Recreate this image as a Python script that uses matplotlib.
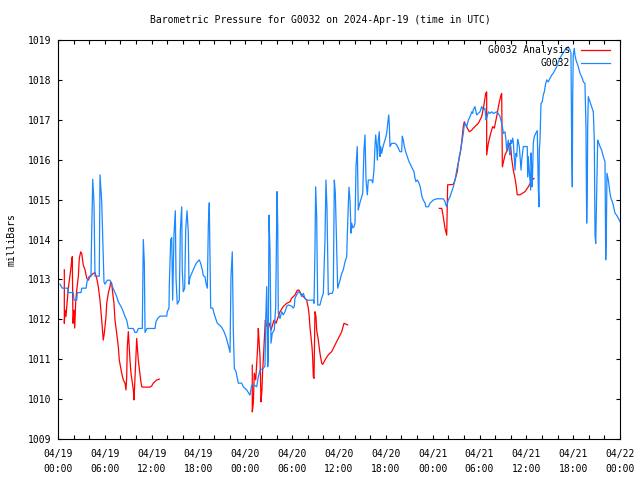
import numpy as np
import matplotlib
matplotlib.use("Agg")
import matplotlib.pyplot as plt

# hours since 2024-04-19 00:00 UTC, pressure in mb
g0032_hours = [
    0.26, 0.55, 1.24, 1.32, 1.96, 2.05, 2.40, 2.47, 2.95, 3.04, 3.59, 3.75, 4.01, 4.23, 4.27, 4.45,
    4.61, 4.74, 5.29, 5.38, 5.60, 5.89, 6.02, 6.32, 6.66, 6.88, 7.17, 7.52, 7.73, 8.07, 8.29, 8.58,
    8.80, 9.01, 9.65, 9.86, 10.08, 10.29, 10.80, 10.93, 11.06, 11.15, 11.40, 11.79, 12.43, 12.55,
    12.81, 13.07, 13.93, 14.00, 14.22, 14.26, 14.44, 14.57, 14.69, 14.86, 15.03, 15.12, 15.28, 15.54,
    15.67, 15.85, 15.92, 16.05, 16.23, 16.36, 16.53, 16.69, 16.78, 16.91, 17.13, 17.33, 17.55, 17.77,
    18.10, 18.28, 18.49, 18.61, 18.83, 18.96, 19.13, 19.26, 19.38, 19.47, 19.56, 19.82, 19.99, 20.20,
    20.41, 20.66, 20.97, 21.27, 21.52, 21.69, 21.87, 22.04, 22.16, 22.33, 22.46, 22.59, 22.80, 22.97,
    23.10, 23.53, 23.74, 24.17, 24.60, 24.81, 25.15, 25.46, 25.66, 25.88, 26.30, 26.52, 26.61, 26.74,
    26.86, 26.94, 27.03, 27.16, 27.29, 27.45, 27.71, 27.89, 28.06, 28.15, 28.22, 28.44, 28.66, 28.86,
    29.08, 29.30, 29.50, 29.94, 30.14, 30.27, 30.36, 30.79, 31.00, 31.22, 31.43, 31.64, 31.86, 32.71,
    32.80, 32.92, 33.01, 33.14, 33.27, 33.56, 33.78, 33.99, 34.21, 34.33, 34.46, 34.63, 34.85, 35.14,
    35.27, 35.40, 35.53, 35.83, 36.13, 36.35, 36.55, 36.77, 36.99, 37.06, 37.19, 37.28, 37.41, 37.54,
    37.63, 37.75, 37.92, 38.05, 38.18, 38.34, 38.47, 38.60, 38.78, 38.91, 39.04, 39.20, 39.33, 39.46,
    39.63, 39.75, 40.19, 40.32, 40.48, 40.61, 40.70, 40.83, 40.91, 41.03, 41.16, 41.25, 41.34, 41.47,
    41.60, 41.76, 41.89, 42.11, 42.24, 42.37, 42.44, 42.53, 42.75, 43.17, 43.39, 43.60, 43.81, 44.03,
    44.11, 44.24, 44.37, 44.54, 44.75, 44.97, 45.18, 45.39, 45.61, 45.74, 45.86, 46.03, 46.16, 46.38,
    46.50, 46.63, 46.80, 47.02, 47.14, 47.44, 47.66, 47.87, 48.08, 48.51, 49.36, 49.58, 49.71, 49.80,
    49.87, 50.00, 50.22, 50.44, 50.64, 50.86, 50.99, 51.08, 51.28, 51.41, 51.59, 51.72, 51.92, 52.05,
    52.14, 52.36, 52.56, 52.69, 52.87, 53.00, 53.13, 53.20, 53.42, 53.55, 53.64, 53.84, 54.06, 54.28,
    54.48, 54.70, 54.83, 54.92, 55.13, 55.34, 55.56, 55.77, 56.20, 56.41, 56.63, 56.84, 56.97, 57.05,
    57.27, 57.39, 57.48, 57.69, 57.82, 57.91, 58.00, 58.12, 58.25, 58.33, 58.55, 58.68, 58.77, 58.89,
    58.97, 59.10, 59.19, 59.32, 59.41, 59.61, 60.12, 60.17, 60.25, 60.56, 60.60, 60.69, 60.76, 60.89,
    61.02, 61.20, 61.40, 61.45, 61.53, 61.62, 61.66, 61.75, 61.88, 62.04, 62.17, 62.30, 62.48, 62.61,
    62.81, 63.03, 63.25, 63.45, 63.67, 63.89, 64.09, 64.31, 64.53, 64.73, 64.95, 65.17, 65.37, 65.59,
    65.72, 65.81, 65.89, 65.94, 66.01, 66.14, 66.23, 66.36, 66.66, 66.87, 67.17, 67.30, 67.51, 67.64,
    67.73, 67.81, 67.86, 67.94, 68.16, 68.37, 68.58, 68.71, 68.80, 68.89, 68.96, 69.14, 69.22, 69.44,
    69.65, 69.86, 70.08, 70.17, 70.24, 70.33, 70.50, 70.72, 70.84, 71.01, 71.14, 71.36, 71.57, 71.78,
    72.00,
]
g0032_mb = [
    1012.88, 1012.78, 1012.78, 1012.67, 1012.67, 1012.48, 1012.48, 1012.67, 1012.67, 1012.78, 1012.78,
    1012.98, 1013.08, 1013.08, 1013.69, 1015.51, 1014.91, 1013.08, 1013.08, 1015.62, 1014.95, 1012.94,
    1012.88, 1012.98, 1012.98, 1012.86, 1012.73, 1012.57, 1012.44, 1012.32, 1012.23, 1012.07, 1011.98,
    1011.77, 1011.77, 1011.67, 1011.67, 1011.77, 1011.77, 1014.00, 1013.41, 1011.67, 1011.77, 1011.77,
    1011.77, 1011.94, 1012.03, 1012.08, 1012.08, 1012.19, 1012.28, 1012.86, 1014.00, 1014.05, 1012.48,
    1014.14, 1014.72, 1013.03, 1012.38, 1012.48, 1014.21, 1014.82, 1013.24, 1012.69, 1012.78, 1014.24,
    1014.72, 1014.20, 1012.88, 1013.05, 1013.15, 1013.24, 1013.34, 1013.42, 1013.49, 1013.40, 1013.24,
    1013.09, 1013.07, 1012.90, 1012.78, 1014.36, 1014.92, 1013.57, 1012.28, 1012.28, 1012.15, 1012.02,
    1011.90, 1011.86, 1011.80, 1011.69, 1011.56, 1011.44, 1011.31, 1011.17, 1013.07, 1013.69, 1011.73,
    1010.77, 1010.69, 1010.52, 1010.40, 1010.40, 1010.31, 1010.23, 1010.10, 1010.35, 1010.35, 1010.31,
    1010.56, 1010.73, 1010.77, 1010.83, 1011.98, 1012.82, 1010.81, 1010.98, 1014.61, 1013.74, 1011.40,
    1011.65, 1011.73, 1012.32, 1015.20, 1014.36, 1012.15, 1012.02, 1012.19, 1012.11, 1012.19, 1012.32,
    1012.36, 1012.33, 1012.28, 1012.32, 1012.53, 1012.69, 1012.67, 1012.57, 1012.65, 1012.53, 1012.48,
    1012.48, 1012.40, 1013.74, 1015.32, 1014.57, 1012.36, 1012.36, 1012.53, 1012.65, 1014.03, 1015.49,
    1014.78, 1012.61, 1012.65, 1012.65, 1012.73, 1015.49, 1015.16, 1012.78, 1012.98, 1013.15, 1013.24,
    1013.44, 1013.57, 1014.07, 1014.86, 1015.31, 1014.99, 1014.16, 1014.41, 1014.29, 1014.32, 1014.41,
    1015.82, 1016.33, 1014.74, 1014.86, 1014.99, 1015.07, 1015.16, 1016.24, 1016.62, 1015.49, 1015.12,
    1015.49, 1015.49, 1015.42, 1015.74, 1016.33, 1016.62, 1016.33, 1015.99, 1016.49, 1016.70, 1016.08,
    1016.33, 1016.16, 1016.29, 1016.41, 1016.49, 1016.66, 1016.91, 1017.12, 1016.91, 1016.33, 1016.41,
    1016.41, 1016.37, 1016.29, 1016.20, 1016.20, 1016.59, 1016.49, 1016.33, 1016.20, 1016.08, 1015.95,
    1015.87, 1015.78, 1015.70, 1015.53, 1015.45, 1015.49, 1015.45, 1015.34, 1015.22, 1015.07, 1014.99,
    1014.91, 1014.82, 1014.82, 1014.91, 1014.95, 1014.99, 1015.02, 1015.02, 1014.95, 1014.86, 1014.82,
    1014.89, 1014.99, 1015.07, 1015.20, 1015.32, 1015.49, 1015.62, 1015.74, 1015.91, 1016.08, 1016.24,
    1016.41, 1016.66, 1016.87, 1016.91, 1016.83, 1016.99, 1017.04, 1017.12, 1017.20, 1017.16, 1017.25,
    1017.33, 1017.20, 1017.12, 1017.16, 1017.20, 1017.33, 1017.25, 1017.29, 1017.00, 1017.04, 1017.20,
    1017.16, 1017.20, 1017.16, 1017.20, 1017.16, 1017.08, 1016.91, 1016.79, 1016.66, 1016.70, 1016.49,
    1016.24, 1016.49, 1016.24, 1016.12, 1016.49, 1016.41, 1016.54, 1016.45, 1015.74, 1016.16, 1016.08,
    1016.51, 1016.45, 1016.33, 1016.08, 1015.74, 1015.99, 1016.33, 1016.33, 1015.57, 1016.08, 1015.24,
    1016.17, 1015.78, 1015.32, 1016.41, 1016.58, 1016.66, 1016.73, 1016.24, 1015.32, 1014.82, 1016.24,
    1016.49, 1017.41, 1017.45, 1017.62, 1017.70, 1017.91, 1018.00, 1017.95, 1018.04, 1018.12, 1018.17,
    1018.25, 1018.33, 1018.46, 1018.54, 1018.62, 1018.68, 1018.75, 1018.79, 1018.83, 1018.75, 1018.67,
    1016.33, 1015.32, 1017.58, 1018.62, 1018.79, 1018.62, 1018.50, 1018.33, 1018.17, 1018.04, 1017.95,
    1017.91, 1016.83, 1014.41, 1015.24, 1016.83, 1017.58, 1017.45, 1017.33, 1017.20, 1016.49, 1014.11,
    1013.90, 1014.66, 1016.49, 1016.45, 1016.33, 1016.24, 1016.08, 1015.95, 1013.49, 1013.99, 1015.66,
    1015.49, 1015.16, 1015.03, 1014.95, 1014.86, 1014.66, 1014.61, 1014.53, 1014.45,
]

# analysis series, three separate runs
analysis_hours_1 = [
    0.81, 0.81, 0.90, 1.02, 1.32, 1.63, 1.76, 1.83, 1.92, 2.05, 2.14, 2.27, 2.40, 2.60, 2.73, 2.91,
    3.04, 3.24, 3.46, 3.68, 3.88, 4.10, 4.52, 4.74, 4.96, 5.16, 5.38, 5.60, 5.73, 5.80, 5.93, 6.15,
    6.24, 6.44, 6.66, 6.75, 6.88, 7.01, 7.17, 7.30, 7.52, 7.73, 7.85, 8.16, 8.37, 8.58, 8.71, 8.80,
    8.88, 9.01, 9.22, 9.35, 9.65, 9.74, 9.83, 9.95, 10.08, 10.29, 10.59, 10.72, 10.85, 11.79, 12.00,
    12.21, 12.64, 12.98,
]
analysis_mb_1 = [
    1013.24, 1011.90, 1012.23, 1012.07, 1012.78, 1013.24, 1013.49, 1013.57, 1011.90, 1012.23, 1011.78,
    1012.44, 1012.73, 1013.07, 1013.53, 1013.69, 1013.65, 1013.36, 1013.24, 1013.03, 1012.98, 1013.07,
    1013.15, 1013.17, 1013.03, 1012.82, 1012.48, 1011.98, 1011.65, 1011.48, 1011.65, 1012.07, 1012.40,
    1012.65, 1012.82, 1012.94, 1012.90, 1012.65, 1012.40, 1011.98, 1011.65, 1011.31, 1010.98, 1010.65,
    1010.48, 1010.40, 1010.23, 1010.56, 1011.31, 1011.69, 1010.98, 1010.65, 1010.23, 1009.98, 1010.40,
    1010.90, 1011.52, 1010.98, 1010.48, 1010.31, 1010.30, 1010.30, 1010.33, 1010.40, 1010.48, 1010.50,
]
analysis_hours_2 = [
    24.89, 24.89, 25.02, 25.15, 25.33, 25.46, 25.58, 25.66, 25.75, 25.88, 26.01, 26.13, 26.22, 26.30,
    26.43, 26.56, 26.65, 26.81, 27.07, 27.29, 27.67, 27.93, 28.44, 28.86, 29.30, 29.72, 29.94, 30.36,
    30.66, 30.87, 31.22, 31.43, 31.86, 31.94, 32.07, 32.19, 32.28, 32.41, 32.54, 32.63, 32.71, 32.80,
    32.92, 33.05, 33.14, 33.35, 33.56, 33.78, 33.91, 34.33, 34.63, 35.06, 35.27, 35.70, 35.91, 36.35,
    36.64, 37.11,
]
analysis_mb_2 = [
    1010.85, 1009.68, 1009.89, 1010.65, 1010.48, 1010.90, 1011.31, 1011.77, 1011.48, 1011.06, 1009.93,
    1010.23, 1010.73, 1010.98, 1011.48, 1011.98, 1011.90, 1011.81, 1011.90, 1011.73, 1011.98, 1011.90,
    1012.19, 1012.32, 1012.40, 1012.44, 1012.53, 1012.61, 1012.73, 1012.73, 1012.61, 1012.57, 1012.48,
    1012.40, 1012.28, 1012.07, 1011.81, 1011.56, 1011.31, 1011.02, 1010.56, 1010.52, 1012.19, 1012.07,
    1011.73, 1011.48, 1011.15, 1010.90, 1010.87, 1011.02, 1011.11, 1011.19, 1011.27, 1011.44, 1011.52,
    1011.69, 1011.90, 1011.86,
]
analysis_hours_3 = [
    48.85, 49.16, 49.36, 49.58, 49.80, 49.92, 50.64, 50.86, 51.15, 51.28, 51.59, 51.72, 51.92, 52.05,
    52.44, 52.69, 53.00, 53.20, 53.84, 54.28, 54.57, 54.79, 54.92, 54.92, 55.13, 55.43, 55.69, 55.90,
    56.02, 56.20, 56.50, 56.75, 56.84, 56.93, 57.27, 57.57, 57.82, 58.00, 58.12, 58.33, 58.55, 58.68,
    58.84, 59.19, 59.83, 60.25, 60.72, 60.98,
]
analysis_mb_3 = [
    1014.78, 1014.78, 1014.57, 1014.28, 1014.11, 1015.37, 1015.38, 1015.49, 1015.70, 1015.91, 1016.24,
    1016.45, 1016.83, 1016.95, 1016.79, 1016.70, 1016.74, 1016.79, 1016.91, 1017.08, 1017.37, 1017.66,
    1017.70, 1016.12, 1016.41, 1016.66, 1016.83, 1016.79, 1016.91, 1017.08, 1017.41, 1017.62, 1017.66,
    1015.82, 1016.12, 1016.24, 1016.41, 1016.33, 1016.03, 1015.74, 1015.53, 1015.37, 1015.12, 1015.12,
    1015.20, 1015.32, 1015.49, 1015.53,
]

tick_hours = [0, 6, 12, 18, 24, 30, 36, 42, 48, 54, 60, 66, 72]
tick_labels = ['04/19\n00:00', '04/19\n06:00', '04/19\n12:00', '04/19\n18:00',
               '04/20\n00:00', '04/20\n06:00', '04/20\n12:00', '04/20\n18:00',
               '04/21\n00:00', '04/21\n06:00', '04/21\n12:00', '04/21\n18:00',
               '04/22\n00:00']

plt.rcParams['font.family'] = 'DejaVu Sans Mono'
plt.rcParams['font.size'] = 7

fig = plt.figure(figsize=(6.4, 4.8), dpi=100)
ax = fig.add_axes([58/640, 1 - 439/480, 562/640, 399/480])

red = '#ff0000'
blue = '#1a88ff'
ax.plot(analysis_hours_1, analysis_mb_1, color=red, lw=0.9, label='G0032 Analysis')
ax.plot(analysis_hours_2, analysis_mb_2, color=red, lw=0.9)
ax.plot(analysis_hours_3, analysis_mb_3, color=red, lw=0.9)
ax.plot(g0032_hours, g0032_mb, color=blue, lw=0.9, label='G0032')

ax.set_xlim(0, 72)
ax.set_ylim(1009, 1019)
ax.set_yticks(np.arange(1009, 1020, 1))
ax.set_xticks(tick_hours)
ax.set_xticklabels(tick_labels, linespacing=1.6)
ax.set_xticks(np.arange(0, 73, 2), minor=True)
ax.tick_params(which='both', direction='in', top=True, right=True,
               length=3.2, width=0.8, color='black', labelsize=7)
ax.tick_params(axis='x', pad=7)
ax.tick_params(axis='y', pad=5)
for s in ax.spines.values():
    s.set_linewidth(0.8)

ax.set_ylabel('milliBars', fontsize=7, labelpad=8)
fig.text(0.5, 1 - 20/480, 'Barometric Pressure for G0032 on 2024-Apr-19 (time in UTC)',
         ha='center', va='center', fontsize=7)

ax.legend(loc='upper right', frameon=False, markerfirst=False, handlelength=3.0,
          handletextpad=1.1, labelspacing=0.3, borderpad=0, borderaxespad=0,
          fontsize=7, bbox_to_anchor=(0.982, 0.987))

fig.savefig('out.png', dpi=100)
